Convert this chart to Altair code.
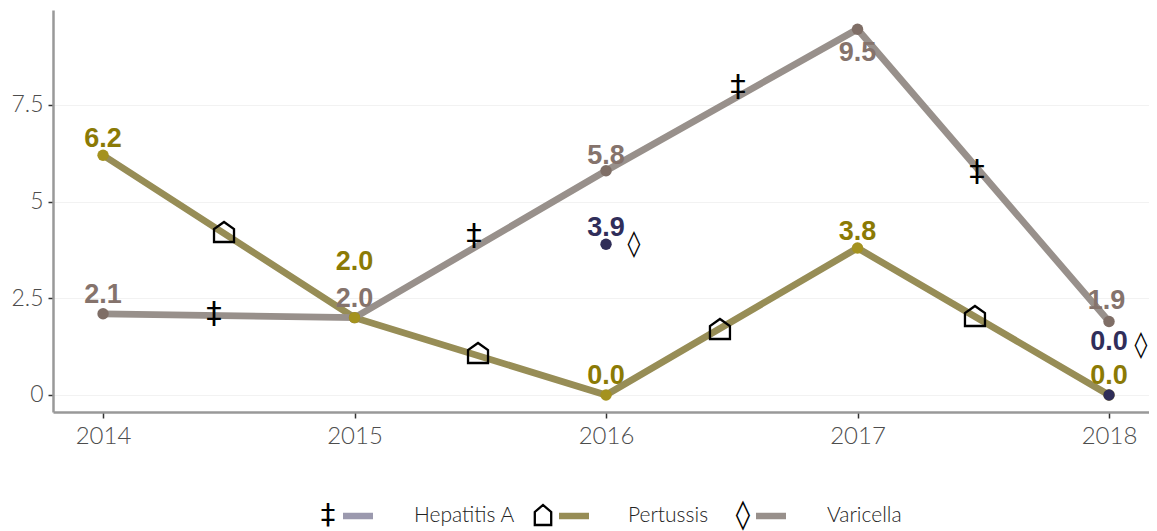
import altair as alt
import pandas as pd

years = [2014, 2015, 2016, 2017, 2018]
pertussis = [6.2, 2.0, 0.0, 3.8, 0.0]
varicella = [2.1, 2.0, 5.8, 9.46, 1.9]
hep_years = [2016, 2018]
hepatitis = [3.9, 0.0]

COL_P_LINE, COL_P_PT, COL_P_TXT = "#978d56", "#a4921f", "#8b7a05"
COL_V_LINE, COL_V_PT, COL_V_TXT = "#98908b", "#7f6e66", "#85736c"
COL_H_PT, COL_H_TXT, COL_H_LEG = "#2f2d58", "#302e5a", "#9b99ae"

lab_x = [2014, 2015, 2016, 2017, 2018, 2014, 2015, 2016, 2017, 2017.99, 2016, 2018]
lab_y = [6.62, 3.44, 0.49, 4.22, 0.49, 2.59, 2.48, 6.18, 8.84, 2.43, 4.32, 1.37]
lab_t = ["6.2", "2.0", "0.0", "3.8", "0.0", "2.1", "2.0", "5.8", "9.5", "1.9", "3.9", "0.0"]
lab_c = [COL_P_TXT] * 5 + [COL_V_TXT] * 5 + [COL_H_TXT] * 2

house_x = [2014.481, 2015.491, 2016.453, 2017.467]
house_y = [4.215, 1.086, 1.707, 2.043]
dagger_x = [2014.441, 2015.475, 2016.525, 2017.475]
dagger_y = [2.095, 4.11, 7.965, 5.767]
diamond_x = [2016.111, 2018.127]
diamond_y = [3.905, 1.293]

leg_names = ["Hepatitis A", "Pertussis", "Varicella"]
leg_text_x = [361, 575, 774]
leg_glyphs = ["‡", "", "◊"]
leg_glyph_x = [275, 490, 690]
leg_line_x = [290, 506, 703]
leg_line_x2 = [320, 536, 733]
leg_cols = [COL_H_LEG, COL_P_LINE, COL_V_LINE]
LEG_Y = 506
HOUSE = "M-1,1 L-1,-0.3 L0,-1 L1,-0.3 L1,1 Z"
HOUSE_LEG = "M-0.82,1 L-0.82,-0.3 L0,-1 L0.82,-0.3 L0.82,1 Z"

X = alt.X("x:Q", scale=alt.Scale(domain=[2013.801, 2018.159], nice=False, zero=False),
          axis=alt.Axis(values=years, format="d", title=None, grid=False, tickSize=6, tickWidth=1.5,
                        tickColor="#333333", domainColor="#999999", domainWidth=2.5,
                        labelFont="Lato", labelFontWeight=300, labelFontSize=24, labelColor="#4d4d4d", labelPadding=6))
Y = alt.Y("y:Q", scale=alt.Scale(domain=[-0.44, 9.956], nice=False, zero=False),
          axis=alt.Axis(values=[0, 2.5, 5, 7.5], labelExpr="datum.value", title=None, grid=True,
                        gridColor="#f2f2f2", gridWidth=1, tickSize=5, tickWidth=1.5, tickColor="#333333",
                        domainColor="#999999", domainWidth=2.5,
                        labelFont="Lato", labelFontWeight=300, labelFontSize=23, labelColor="#4d4d4d", labelPadding=5))

def line(ys, col):
    d = pd.DataFrame({"x": years, "y": ys})
    return alt.Chart(d).mark_line(color=col, strokeWidth=6.8, strokeCap="butt", strokeJoin="miter").encode(x=X, y=Y)

def points(xs, ys, cols):
    d = pd.DataFrame({"x": xs, "y": ys, "c": cols})
    return alt.Chart(d).mark_point(filled=True, size=130, opacity=1).encode(
        x=X, y=Y, color=alt.Color("c:N", scale=None))

def glyphs(xs, ys, g, size, font="DejaVu Sans"):
    d = pd.DataFrame({"x": xs, "y": ys, "g": [g] * len(xs)})
    return alt.Chart(d).mark_text(fontSize=size, font=font, color="black", baseline="middle").encode(
        x=X, y=Y, text="g:N")

def houses(xs, ys, size):
    d = pd.DataFrame({"x": xs, "y": ys})
    return alt.Chart(d).mark_point(shape=HOUSE, size=size, filled=False, color="black",
                                   strokeWidth=2.3, opacity=1).encode(x=X, y=Y)

lab = pd.DataFrame({"x": lab_x, "y": lab_y, "t": lab_t, "c": lab_c})
labels = alt.Chart(lab).mark_text(font="Liberation Sans", fontWeight="bold", fontSize=27, baseline="middle").encode(
    x=X, y=Y, text="t:N", color=alt.Color("c:N", scale=None))

pts_v = points(years, varicella, [COL_V_PT] * 5)
pts_p = points(years, pertussis, [COL_P_PT] * 5)
pts_h = points(hep_years, hepatitis, [COL_H_PT] * 2)

leg = pd.DataFrame({"name": leg_names, "tx": leg_text_x, "g": leg_glyphs, "gx": leg_glyph_x,
                    "lx": leg_line_x, "lx2": leg_line_x2, "c": leg_cols})
leg_lines = alt.Chart(leg).mark_rule(strokeWidth=6.5).encode(
    x=alt.X("lx:Q", scale=None, axis=None), x2="lx2:Q", y=alt.value(LEG_Y),
    color=alt.Color("c:N", scale=None))
leg_text = alt.Chart(leg).mark_text(font="Lato", fontWeight=300, fontSize=21, color="#222222", align="left", baseline="middle").encode(
    x=alt.X("tx:Q", scale=None, axis=None), y=alt.value(LEG_Y), text="name:N")
leg_g = alt.Chart(leg).mark_text(font="DejaVu Sans", fontSize=29, color="black", baseline="middle").encode(
    x=alt.X("gx:Q", scale=None, axis=None), y=alt.value(LEG_Y - 1), text="g:N")
leg_house = alt.Chart(leg[leg.name == "Pertussis"]).mark_point(
    shape=HOUSE_LEG, size=400, filled=False, color="black", strokeWidth=2.3, opacity=1).encode(
    x=alt.X("gx:Q", scale=None, axis=None), y=alt.value(LEG_Y - 1))

chart = alt.layer(
    line(pertussis, COL_P_LINE), line(varicella, COL_V_LINE),
    pts_v, pts_p, pts_h, labels,
    houses(house_x, house_y, 400),
    glyphs(dagger_x, dagger_y, "‡", 31),
    glyphs(diamond_x, diamond_y, "◊", 26),
    leg_lines, leg_text, leg_g, leg_house,
).resolve_scale(x="shared", y="shared").properties(
    width=1096, height=402,
    autosize=alt.AutoSizeParams(type="none"),
    padding={"left": 45, "top": 2, "right": 0, "bottom": 119},
).configure_view(stroke=None)

chart.save("out.html", embed_options={"renderer": "svg", "actions": False})
